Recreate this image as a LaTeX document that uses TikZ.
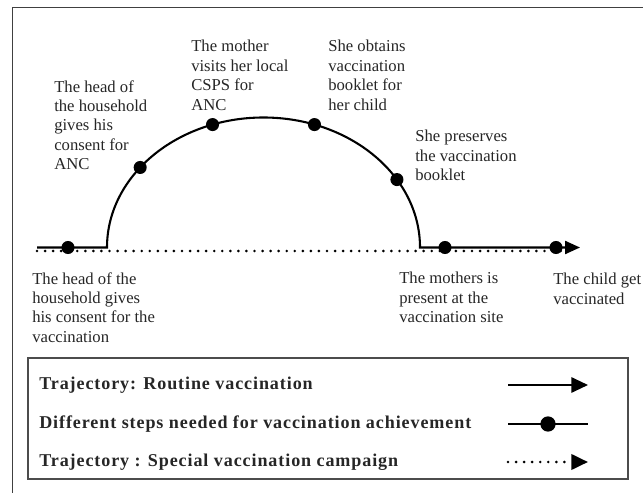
\documentclass[tikz,border=0pt]{standalone}
\usepackage{fontspec}
\setmainfont{Liberation Serif}
\newfontfamily\keyfont[LetterSpace=5]{Liberation Serif}
\usetikzlibrary{arrows.meta,calc}

\begin{document}
\begin{tikzpicture}[x=0.72pt,y=-0.72pt,
    stepdot/.style  = {circle, fill=black, inner sep=0pt, minimum size=9.4pt},
    steptext/.style = {anchor=north west, inner sep=0pt, align=left, text=black!85,
                       font=\fontsize{12}{14}\selectfont},
    keytext/.style  = {anchor=west, inner sep=0pt, text=black!85,
                       font=\keyfont\fontsize{13}{15}\selectfont\bfseries},
    routine/.style  = {line width=1.5pt},
    campaign/.style = {line width=2.1pt, line cap=round, dash pattern=on 0pt off 5.8pt},
    tip/.style      = {-{Triangle[length=10.8pt,width=9.4pt]}},
    keytip/.style   = {-{Triangle[length=12pt,width=11pt]}},
    frame/.style    = {line width=1.1pt, draw=black!75}]
  \useasboundingbox (0,0) rectangle (643,493);

  % outer frame, cut by the page at the right and at the bottom
  \draw[frame] (12.5,493) -- (12.5,7.5) -- (643,7.5);

  % points of the trajectory
  \coordinate (start)  at (37,247.5);
  \coordinate (leave)  at (107,247.5);
  \coordinate (back)   at (420,247.5);
  \coordinate (end)    at (580,247.5);
  \coordinate (centre) at (263.5,247.5);
  \coordinate (cstart) at (37,251);
  \coordinate (cend)   at (565,251);

  % special campaign (dotted), below the routine trajectory
  \draw[campaign] (cstart) -- (cend);

  % routine trajectory, with the detour for ANC
  \draw[routine, tip] (start) -- (leave)
    arc[start angle=180, end angle=360, x radius=156.5, y radius=130] -- (end);

  % the steps
  \node[stepdot] (s1) at (68,247.5) {};
  \foreach \name/\angle in {s2/218, s3/251, s4/289, s5/328.5}
    \node[stepdot] (\name) at ($(centre)+(\angle:156.5 and 130)$) {};
  \node[stepdot] (s6) at (445,247.5) {};
  \node[stepdot] (s7) at (556,247.5) {};

  % texts of the steps
  \node[steptext] (t1) at (32,272)  {The head of the\\household gives\\his consent for the\\vaccination};
  \node[steptext] (t2) at (54,80)   {The head of\\the household\\gives his\\consent for\\ANC};
  \node[steptext] (t3) at (191,40)  {The mother\\visits her local\\CSPS for\\ANC};
  \node[steptext] (t4) at (328,40)  {She obtains\\vaccination\\booklet for\\her child};
  \node[steptext] (t5) at (415,130) {She preserves\\the vaccination\\booklet};
  \node[steptext] (t6) at (399,272) {The mothers is\\present at the\\vaccination site};
  \node[steptext] (t7) at (553,273) {The child get\\vaccinated};

  % legend
  \draw[frame, draw=black!70] (28,358) rectangle (628,479);
  \node[keytext] (k1) at (39,385) {Trajectory: Routine vaccination};
  \node[keytext] (k2) at (39,424) {Different steps needed for vaccination achievement};
  \node[keytext] (k3) at (39,462) {Trajectory : Special vaccination campaign};

  \coordinate (k1a) at (508,385);
  \coordinate (k1b) at (588,385);
  \coordinate (k2a) at (508,424);
  \coordinate (k2b) at (588,424);
  \coordinate (k3a) at (508,462);
  \coordinate (k3b) at (588,462);

  \draw[routine, keytip] (k1a) -- (k1b);
  \draw[routine] (k2a) -- (k2b);
  \node[stepdot, minimum size=11pt] (kdot) at ($(k2a)!0.5!(k2b)$) {};
  \draw[campaign, keytip] (k3a) -- (k3b);
\end{tikzpicture}
\end{document}
